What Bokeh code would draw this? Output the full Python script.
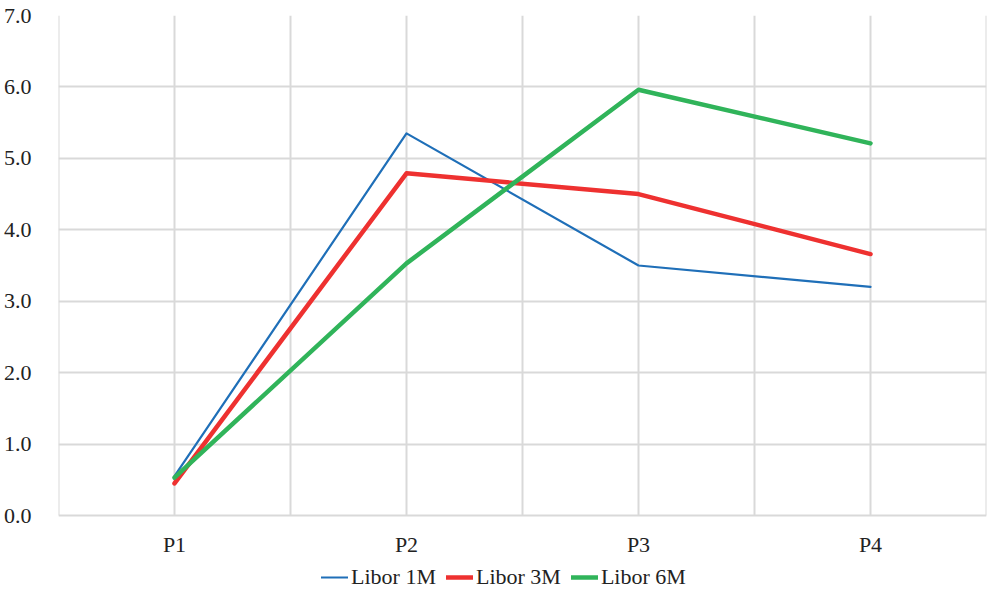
from bokeh.plotting import figure
from bokeh.models import FixedTicker, Legend, LegendItem, PrintfTickFormatter, Range1d
from bokeh.core.properties import value
from bokeh.embed import file_html
from bokeh.resources import INLINE

categories = ["P1", "P2", "P3", "P4"]
libor_1m = [0.55, 5.35, 3.50, 3.20]
libor_3m = [0.45, 4.79, 4.50, 3.66]
libor_6m = [0.53, 3.53, 5.96, 5.21]
y_ticks = [0, 1, 2, 3, 4, 5, 6, 7]
series_names = ["Libor 1M", "Libor 3M", "Libor 6M"]

FONT = "Liberation Serif"
FS = "22px"
COLORS = ["#1F6FB8", "#EE3130", "#30B45A"]
WIDTHS = [2.2, 4.5, 4.5]
GRID = "#D9D9D9"

n = len(categories)
xs = [i + 0.5 for i in range(n)]
y_top = y_ticks[-1]
# plot area spans 0..7 over 500px; the 80px strip beneath holds labels and legend
y_bottom = -y_top * 80.0 / 500.0

p = figure(width=987, height=595, output_backend="svg", toolbar_location=None,
           x_range=Range1d(0, n), y_range=Range1d(y_bottom, y_top),
           min_border_left=55, min_border_right=1, min_border_top=15, min_border_bottom=0)
p.outline_line_color = None
p.background_fill_color = "white"
p.xaxis.visible = False
p.xgrid.visible = False

p.yaxis.ticker = FixedTicker(ticks=y_ticks)
p.yaxis.formatter = PrintfTickFormatter(format="%.1f")
p.yaxis.axis_line_color = None
p.yaxis.major_tick_line_color = None
p.yaxis.minor_tick_line_color = None
p.yaxis.major_label_text_font = FONT
p.yaxis.major_label_text_font_size = FS
p.yaxis.major_label_text_color = "#222222"
p.yaxis.major_label_standoff = 21

p.ygrid.ticker = FixedTicker(ticks=y_ticks)
p.ygrid.grid_line_color = GRID
p.ygrid.grid_line_width = 2

# vertical gridlines at category centres and boundaries, only over the plot area
gx = [i * 0.5 for i in range(2 * n + 1)]
p.segment(x0=gx, y0=[0] * len(gx), x1=gx, y1=[y_top] * len(gx),
          line_color=GRID, line_width=2)

# category labels under the plot area
p.text(x=xs, y=[0] * n, text=categories, y_offset=29,
       text_align="center", text_baseline="middle",
       text_font=value(FONT), text_font_size=FS, text_color="#222222")

renderers = []
for vals, c, w in zip([libor_1m, libor_3m, libor_6m], COLORS, WIDTHS):
    renderers.append(p.line(xs, vals, line_color=c, line_width=w,
                            line_cap="round", line_join="round"))

legend = Legend(items=[LegendItem(label=nm, renderers=[r]) for nm, r in zip(series_names, renderers)],
                orientation="horizontal", location=(263, 5),
                label_text_font=FONT, label_text_font_size=FS, label_text_color="#222222",
                glyph_width=27, glyph_height=20, label_standoff=3, spacing=10, padding=0, margin=0,
                border_line_color=None, background_fill_alpha=0)
p.add_layout(legend, "center")

open("out.html", "w").write(file_html(p, INLINE))
